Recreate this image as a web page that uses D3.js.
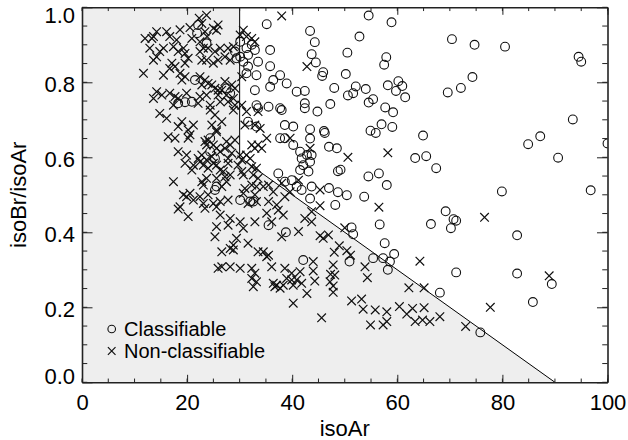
<!DOCTYPE html>
<html>
<head>
<meta charset="utf-8">
<script src="https://cdn.jsdelivr.net/npm/d3@7"></script>
<style>
  html, body { margin: 0; padding: 0; background: #fff; }
  svg { display: block; font-family: "Liberation Sans", Arial, Helvetica, sans-serif; }
</style>
</head>
<body>
<svg id="chart" width="628" height="440"></svg>
<script>
// Classifiable events: [isoAr, isoBr/isoAr]
const classifiable = [
  [70.4,0.915],[74.7,0.90],[80.5,0.895],[94.5,0.868],[95.0,0.855],[74.3,0.814],[72.1,0.785],[69.6,0.773],
  [64.9,0.658],[84.9,0.635],[87.2,0.656],[93.4,0.701],[100,0.637],[63.4,0.598],[65.5,0.603],[90.6,0.599],
  [67.4,0.571],[79.9,0.509],[96.8,0.512],[69.2,0.456],[70.7,0.435],[71.2,0.431],[66.4,0.422],[70.2,0.411],
  [82.8,0.392],[71.2,0.293],[82.8,0.290],[89.4,0.262],[85.8,0.214],[68.1,0.239],[75.8,0.133],
  [54.55,0.978],[58.9,0.96],[52.8,0.922],[50.5,0.879],[57.9,0.867],[57.5,0.847],[43.4,0.937],[44.3,0.907],
  [43.7,0.875],[44.5,0.853],[45.9,0.827],[45.7,0.817],[50.2,0.822],[48.0,0.785],[52.1,0.789],[51.6,0.771],
  [50.6,0.765],[54.0,0.782],[55.4,0.755],[54.55,0.746],[58.2,0.792],[60.2,0.803],[60.95,0.79],[59.75,0.777],
  [61.5,0.76],[47.25,0.742],[44.8,0.722],[57.7,0.733],[59.2,0.72],[57.0,0.688],[59.05,0.681],[54.9,0.671],
  [55.9,0.665],[46.05,0.67],[46.2,0.665],[47.0,0.628],[48.5,0.624],[43.4,0.675],[43.4,0.65],[43.7,0.606],
  [48.7,0.563],[49.2,0.567],[54.5,0.549],[56.5,0.557],[58.0,0.526],[47.0,0.518],[48.7,0.507],[50.4,0.499],
  [53.7,0.495],[48.2,0.473],[43.4,0.49],[56.65,0.421],[51.3,0.413],[51.6,0.395],[57.6,0.371],[59.4,0.342],
  [55.4,0.331],[57.3,0.331],[58.6,0.322],[58.2,0.3],[50.9,0.322],
  [22.1,0.953],[21.9,0.931],[23.7,0.904],[21.5,0.806],[18.3,0.744],[19.6,0.747],[20.9,0.748],
  [35.15,0.955],[30.1,0.908],[32.3,0.9],[32.9,0.886],[35.8,0.886],[31.3,0.891],[29.1,0.882],[30.1,0.868],
  [29.4,0.864],[30.7,0.855],[31.6,0.873],[33.5,0.855],[35.8,0.843],[31.6,0.842],[31.3,0.824],[33.2,0.819],
  [37.7,0.819],[36.4,0.806],[35.8,0.788],[38.95,0.797],[32.9,0.779],[40.85,0.775],[42.4,0.777],[27.5,0.784],
  [28.2,0.771],[33.2,0.739],[35.5,0.735],[37.7,0.731],[42.4,0.744],
  [24.4,0.651],[24.4,0.615],[25.3,0.597],[25.6,0.522],[25.3,0.513],
  [33.5,0.731],[38.0,0.726],[42.4,0.731],[31.6,0.695],[33.2,0.682],[38.6,0.686],[40.2,0.682],[37.7,0.651],
  [38.6,0.651],[40.2,0.633],[41.5,0.615],[41.8,0.597],[42.8,0.606],[42.1,0.579],[43.4,0.588],[43.1,0.562],
  [41.5,0.566],[37.35,0.557],[38.6,0.535],[39.9,0.539],[40.85,0.522],[41.8,0.513],[43.7,0.522],[30.1,0.486],
  [32.0,0.482],[32.6,0.482],
  [35.5,0.419],[38.8,0.4],[42.1,0.326]
];

// Non-classifiable events: [isoAr, isoBr/isoAr]
const nonClassifiable = [
  [76.6,0.44],[64.3,0.323],[88.9,0.284],[77.7,0.2],[73.0,0.149],[65.1,0.252],[62.2,0.252],[62.9,0.197],
  [65.1,0.199],[61.8,0.182],[63.4,0.162],[64.8,0.166],[66.2,0.162],[68.1,0.175],
  [58.2,0.612],[50.6,0.60],
  [45.3,0.513],[45.3,0.471],[56.5,0.467],[43.7,0.455],[43.7,0.428],[50.0,0.412],[45.3,0.391],[45.9,0.384],
  [46.9,0.393],[48.96,0.364],[48.0,0.347],[50.4,0.351],[51.1,0.339],[44.0,0.322],[44.0,0.297],[44.3,0.27],
  [47.8,0.313],[47.3,0.288],[48.1,0.286],[47.2,0.268],[47.8,0.257],[47.8,0.24],[53.85,0.308],[54.3,0.279],
  [51.3,0.217],[53.2,0.222],[53.5,0.195],[55.8,0.193],[58.0,0.188],[58.0,0.162],[57.3,0.153],[54.9,0.153],
  [60.4,0.202],[45.6,0.172],
  [22.3,0.971],[23.7,0.979],[22.8,0.957],[20.55,0.946],[18.65,0.94],[16.1,0.935],[14.2,0.935],[13.6,0.922],
  [12.0,0.917],[13.3,0.917],[16.7,0.922],[18.0,0.913],[23.4,0.935],[23.8,0.922],[25.0,0.944],[20.9,0.917],
  [22.45,0.908],[24.0,0.891],[12.9,0.891],[15.5,0.891],[14.8,0.882],[17.4,0.895],[19.3,0.891],[18.3,0.882],
  [19.6,0.877],[22.45,0.882],[23.1,0.891],[25.3,0.882],[13.6,0.859],[14.2,0.868],[17.1,0.851],[17.7,0.842],
  [16.7,0.837],[19.6,0.851],[20.2,0.864],[22.8,0.859],[23.7,0.859],[25.0,0.851],[11.7,0.824],[15.5,0.819],
  [18.65,0.824],[19.6,0.815],[19.0,0.806],[22.45,0.815],[23.4,0.806],[24.0,0.797],[22.8,0.793],[24.7,0.793],
  [25.3,0.784],[25.9,0.779],[14.2,0.775],[15.2,0.766],[13.6,0.757],[16.7,0.771],[17.7,0.762],[18.3,0.757],
  [19.9,0.771],[22.45,0.762],[23.7,0.766],[17.4,0.739],[22.1,0.744],[24.4,0.739],
  [38.0,0.977],[25.9,0.953],[25.6,0.939],[30.7,0.939],[30.1,0.926],[31.3,0.922],[32.3,0.917],[32.9,0.908],
  [26.3,0.891],[27.8,0.891],[28.8,0.895],[27.2,0.868],[28.2,0.859],[25.9,0.859],[30.4,0.815],[42.8,0.842],
  [27.2,0.802],[28.5,0.793],[26.6,0.779],[25.9,0.766],[27.5,0.766],[29.1,0.784],[28.8,0.757],[26.3,0.748],
  [27.8,0.748],[29.1,0.739],[30.4,0.739],
  [14.8,0.717],[16.1,0.704],[19.0,0.695],[18.3,0.682],[21.2,0.686],[20.2,0.673],[24.4,0.726],[25.3,0.713],
  [24.7,0.686],[25.6,0.673],[16.4,0.655],[17.7,0.651],[20.55,0.66],[20.2,0.651],[23.4,0.642],[24.0,0.646],
  [23.7,0.633],[25.0,0.633],[25.6,0.624],[18.3,0.615],[19.9,0.606],[19.6,0.584],[20.9,0.566],[21.2,0.579],
  [22.1,0.597],[22.8,0.606],[22.45,0.588],[23.1,0.579],[23.7,0.593],[24.7,0.602],[25.0,0.584],[24.0,0.571],
  [17.4,0.535],[22.8,0.535],[23.7,0.544],[23.1,0.526],[19.3,0.5],[19.9,0.495],[20.55,0.504],[21.2,0.486],
  [22.45,0.495],[24.0,0.5],[23.1,0.477],[18.65,0.468],[25.0,0.477],
  [26.6,0.695],[25.6,0.668],[27.5,0.642],[27.2,0.624],[28.2,0.633],[29.1,0.646],[28.5,0.611],[26.3,0.615],
  [27.8,0.597],[30.1,0.606],[30.4,0.593],[29.7,0.579],[28.8,0.726],[31.3,0.722],[33.5,0.722],[31.0,0.686],
  [32.9,0.686],[33.9,0.677],[35.15,0.651],[39.6,0.651],[32.3,0.633],[32.9,0.624],[33.5,0.633],[34.2,0.624],
  [31.3,0.606],[32.0,0.597],[43.4,0.624],[25.6,0.579],[26.3,0.566],[27.8,0.584],[26.9,0.562],[25.6,0.544],
  [27.2,0.548],[28.2,0.553],[30.4,0.562],[30.7,0.553],[32.3,0.575],[33.2,0.571],[32.6,0.553],[33.5,0.544],
  [32.3,0.526],[33.2,0.522],[34.5,0.522],[35.5,0.526],[27.5,0.535],[26.6,0.522],[26.3,0.482],[27.8,0.486],
  [30.7,0.504],[31.0,0.517],[32.9,0.5],[31.6,0.477],[33.2,0.482],[35.5,0.482],[37.05,0.473],[36.4,0.508],
  [38.6,0.495],[38.0,0.531],[39.6,0.508],[41.2,0.539],
  [18.3,0.462],[20.2,0.442],[23.4,0.464],[25.6,0.468],[25.6,0.415],[25.3,0.388],[25.9,0.304],
  [26.3,0.446],[28.2,0.437],[27.8,0.419],[30.1,0.428],[30.7,0.411],[32.9,0.428],[35.15,0.451],[37.35,0.459],
  [38.3,0.446],[36.1,0.428],[38.0,0.388],[41.2,0.402],[42.4,0.437],[29.4,0.384],[28.8,0.366],[28.2,0.357],
  [26.6,0.348],[28.8,0.353],[31.6,0.371],[33.5,0.348],[34.5,0.348],[35.15,0.335],[36.1,0.308],[35.5,0.339],
  [26.6,0.308],[28.2,0.308],[30.1,0.304],[32.3,0.304],[32.9,0.291],[32.3,0.277],[33.2,0.268],[32.6,0.255],
  [36.4,0.264],[37.05,0.259],[38.6,0.304],[38.95,0.277],[39.9,0.273],[40.2,0.259],[40.85,0.273],[41.8,0.264],
  [38.3,0.259],[39.9,0.291],[41.5,0.295],[42.8,0.237],[40.2,0.211],[36.7,0.255],[37.7,0.251]
];

// Boundary of the non-classifiable zone: isoAr < 30, or isoBr/isoAr < (90 - isoAr)/100
const zoneBoundary = [[0,0],[0,1],[30,1],[30,0.6],[90,0]];

const xTicks = [0, 20, 40, 60, 80, 100];
const yTicks = [0.0, 0.2, 0.4, 0.6, 0.8, 1.0];
const xMinor = d3.range(0, 101, 5);
const yMinor = d3.range(0, 1.0001, 0.05);
const legendItems = [
  { label: "Classifiable", symbol: "circle" },
  { label: "Non-classifiable", symbol: "cross" }
];

const svg = d3.select("#chart");
const W = 628, H = 440;
const margin = { left: 82, right: 20.5, top: 7.3, bottom: 57.7 };
const pw = W - margin.left - margin.right;
const ph = H - margin.top - margin.bottom;

const x = d3.scaleLinear().domain([0, 100]).range([margin.left, margin.left + pw]);
const y = d3.scaleLinear().domain([0, 1]).range([margin.top + ph, margin.top]);

svg.append("defs").append("clipPath").attr("id", "plotClip")
  .append("rect").attr("x", x(0)).attr("y", y(1)).attr("width", pw).attr("height", ph);

// shaded zone
svg.append("path")
  .attr("d", d3.line().x(d => x(d[0])).y(d => y(d[1]))(zoneBoundary) + "Z")
  .attr("fill", "#eeeeee").attr("stroke", "none");

// boundary lines (vertical at isoAr=30 and the diagonal)
svg.append("path")
  .attr("d", d3.line().x(d => x(d[0])).y(d => y(d[1]))(zoneBoundary.slice(2)))
  .attr("fill", "none").attr("stroke", "#000").attr("stroke-width", 1);

const pts = svg.append("g").attr("clip-path", "url(#plotClip)");
const R = 4.4, C = 4.3;

pts.selectAll("circle.cls").data(classifiable).join("circle")
  .attr("class", "cls")
  .attr("cx", d => x(d[0])).attr("cy", d => y(d[1])).attr("r", R)
  .attr("fill", "none").attr("stroke", "#111").attr("stroke-width", 1.1);

pts.selectAll("path.non").data(nonClassifiable).join("path")
  .attr("class", "non")
  .attr("d", d => {
    const cx = x(d[0]), cy = y(d[1]);
    return `M${cx - C},${cy - C}L${cx + C},${cy + C}M${cx - C},${cy + C}L${cx + C},${cy - C}`;
  })
  .attr("fill", "none").attr("stroke", "#111").attr("stroke-width", 1.2);

// axes: ticks point inward on all four sides
const xLen = 0.02 * ph, yLen = 0.02 * pw;
function styleAxis(g) {
  g.select(".domain").attr("stroke", "#222").attr("stroke-width", 1.6);
  g.selectAll(".tick line").attr("stroke", "#222").attr("stroke-width", 1);
}
function minorTicks(g, vals, orient) {
  vals.forEach(v => {
    if (orient === "bottom") g.append("line").attr("x1", x(v)).attr("x2", x(v)).attr("y1", y(0)).attr("y2", y(0) - xLen / 2);
    if (orient === "top") g.append("line").attr("x1", x(v)).attr("x2", x(v)).attr("y1", y(1)).attr("y2", y(1) + xLen / 2);
    if (orient === "left") g.append("line").attr("y1", y(v)).attr("y2", y(v)).attr("x1", x(0)).attr("x2", x(0) + yLen / 2);
    if (orient === "right") g.append("line").attr("y1", y(v)).attr("y2", y(v)).attr("x1", x(100)).attr("x2", x(100) - yLen / 2);
  });
  g.selectAll("line.m").attr("stroke", "#222");
}

const minorG = svg.append("g").attr("stroke", "#222").attr("stroke-width", 1);
minorTicks(minorG, xMinor, "bottom");
minorTicks(minorG, xMinor, "top");
minorTicks(minorG, yMinor, "left");
minorTicks(minorG, yMinor, "right");

const gx = svg.append("g").attr("transform", `translate(0,${y(0)})`)
  .call(d3.axisBottom(x).tickValues(xTicks).tickSize(-xLen).tickSizeOuter(0).tickFormat(d3.format("d")));
styleAxis(gx);
gx.selectAll(".tick text").attr("y", 27.7).attr("dy", 0)
  .attr("font-size", 22).attr("fill", "#000");

const gxTop = svg.append("g").attr("transform", `translate(0,${y(1)})`)
  .call(d3.axisTop(x).tickValues(xTicks).tickSize(-xLen).tickSizeOuter(0).tickFormat(""));
styleAxis(gxTop);

const gy = svg.append("g").attr("transform", `translate(${x(0)},0)`)
  .call(d3.axisLeft(y).tickValues(yTicks).tickSize(-yLen).tickSizeOuter(0).tickFormat(d3.format(".1f")));
styleAxis(gy);
gy.selectAll(".tick text")
  .attr("x", -7).attr("dy", d => d === 0 ? 1 : (d === 1 ? 15 : 9.5))
  .attr("font-size", 22).attr("fill", "#000");

const gyRight = svg.append("g").attr("transform", `translate(${x(100)},0)`)
  .call(d3.axisRight(y).tickValues(yTicks).tickSize(-yLen).tickSizeOuter(0).tickFormat(""));
styleAxis(gyRight);

// axis titles
svg.append("text").attr("x", (x(0) + x(100)) / 2).attr("y", 436)
  .attr("text-anchor", "middle").attr("font-size", 22).attr("fill", "#000").text("isoAr");
svg.append("text")
  .attr("transform", `translate(26,${(y(0) + y(1)) / 2}) rotate(-90)`)
  .attr("text-anchor", "middle").attr("font-size", 22).attr("fill", "#000").text("isoBr/isoAr");

// legend
const lg = svg.append("g");
legendItems.forEach((it, i) => {
  const cy = 329 + i * 22, cx = 111.7;
  if (it.symbol === "circle") {
    lg.append("circle").attr("cx", cx).attr("cy", cy).attr("r", 3.8)
      .attr("fill", "none").attr("stroke", "#111").attr("stroke-width", 1.1);
  } else {
    const c = 3.8;
    lg.append("path").attr("d", `M${cx - c},${cy - c}L${cx + c},${cy + c}M${cx - c},${cy + c}L${cx + c},${cy - c}`)
      .attr("stroke", "#111").attr("stroke-width", 1.2);
  }
  lg.append("text").attr("x", 124).attr("y", cy + 7).attr("font-size", 20).attr("fill", "#000").text(it.label);
});
</script>
</body>
</html>
